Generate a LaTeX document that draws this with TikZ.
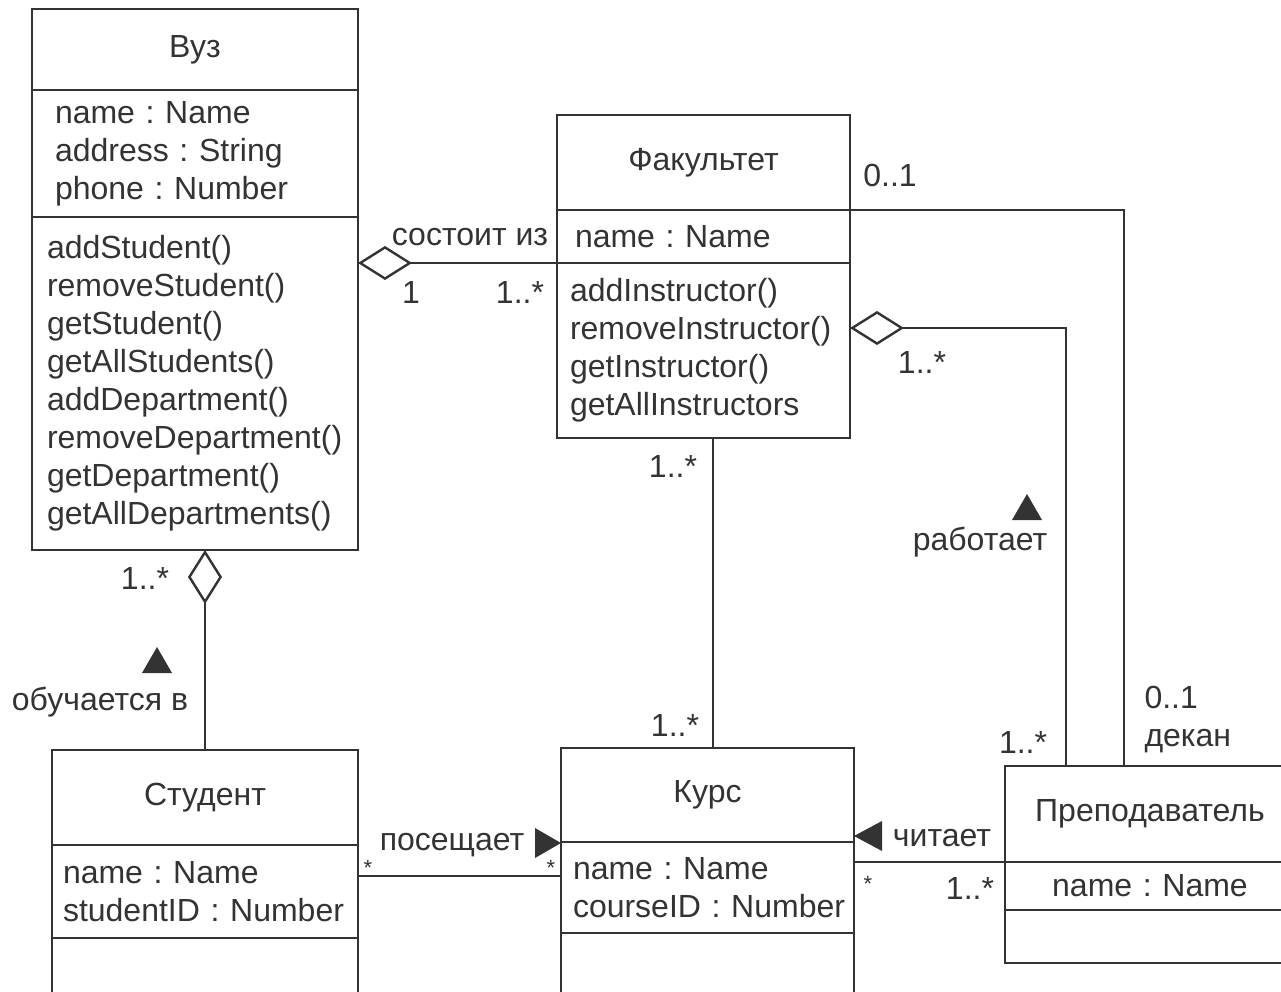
\documentclass[tikz,border=0pt]{standalone}
\usepackage{fontspec}
\setmainfont{Liberation Sans}
\usetikzlibrary{arrows.meta,positioning}
\definecolor{ink}{HTML}{333333}
\newcommand{\umlsize}{\fontsize{32}{38}\selectfont}
\frenchspacing
\hyphenpenalty=10000

\begin{document}
\begin{tikzpicture}[x=1pt, y=-1pt, line width=2.4pt, color=ink,
	every node/.style={font=\umlsize, text=ink},
	classtitle/.style={draw=ink, anchor=north west, outer sep=0pt, inner sep=0pt, align=center},
	compartment/.style={draw=ink, below=0pt of #1, outer sep=0pt, inner ysep=0pt, align=left},
	agg/.style={{Diamond[open, length=54pt, width=34pt]}-},
	star/.style={font=\fontsize{22}{22}\selectfont}]
	\useasboundingbox (0,0) rectangle (1281,992);
	\clip (0,0) rectangle (1281,992);

	% Вуз
	\node[classtitle, minimum width=326, minimum height=81] (vuz) at (32,9) {Вуз};
	\node[compartment=vuz, minimum width=326, minimum height=127, inner xsep=23, text width=280] (vuzattr) {name : Name\\address : String\\phone : Number};
	\node[compartment=vuzattr, minimum width=326, minimum height=333, inner xsep=15, text width=296] (vuzops) {addStudent()\\removeStudent()\\getStudent()\\getAllStudents()\\addDepartment()\\removeDepartment()\\getDepartment()\\getAllDepartments()};

	% Факультет
	\node[classtitle, minimum width=293, minimum height=95] (fak) at (557,115) {Факультет};
	\node[compartment=fak, minimum width=293, minimum height=53, inner xsep=18, text width=257] (fakattr) {name : Name};
	\node[compartment=fakattr, minimum width=293, minimum height=175, inner xsep=13, text width=267] (fakops) {addInstructor()\\removeInstructor()\\getInstructor()\\getAllInstructors};

	% Студент
	\node[classtitle, minimum width=306, minimum height=95] (stud) at (52,750) {Студент};
	\node[compartment=stud, minimum width=306, minimum height=93, inner xsep=11, text width=284] (studattr) {name : Name\\studentID~:~Number};
	\node[compartment=studattr, minimum width=306, minimum height=80, inner xsep=11, text width=284] (studops) {};

	% Курс
	\node[classtitle, minimum width=293, minimum height=94] (kurs) at (561,748) {Курс};
	\node[compartment=kurs, minimum width=293, minimum height=91, inner xsep=12, text width=269] (kursattr) {name : Name\\courseID~:~Number};
	\node[compartment=kursattr, minimum width=293, minimum height=80, inner xsep=12, text width=269] (kursops) {};

	% Преподаватель
	\node[classtitle, minimum width=290, minimum height=96] (prep) at (1005,766) {Преподаватель};
	\node[compartment=prep, minimum width=290, minimum height=48, inner xsep=10, text width=270, align=center] (prepattr) {name : Name};
	\node[compartment=prepattr, minimum width=290, minimum height=53, inner xsep=10, text width=270] (prepops) {};

	% связи
	\coordinate (deanbend) at (1124,210);
	\coordinate (worksbend) at (1066,328);
	\coordinate (kurstop) at (713,748);
	\coordinate (visity) at (0,876);
	\draw[agg] (fakops.north west -| vuzops.east) -- (fakops.north west);
	\draw (fak.south east) -- (deanbend) -- (prep.north -| deanbend);
	\draw[agg] (fakops.east |- worksbend) -- (worksbend) -- (prep.north -| worksbend);
	\draw (fakops.south -| kurstop) -- (kurstop);
	\draw[agg] (vuzops.south -| stud.north) -- (stud.north);
	\draw (studattr.east |- visity) -- (kursattr.west |- visity);
	\draw (prep.south west) -- (prep.south west -| kurs.east);

	% направления
	\fill (142,673) -- (172,673) -- (157,647) -- cycle;
	\fill (1012,520) -- (1042,520) -- (1027,494) -- cycle;
	\fill (535,828) -- (535,858) -- (561,843) -- cycle;
	\fill (882,821) -- (882,851) -- (854,836) -- cycle;

	\node (consist) at (470,237) {состоит из};
	\node (consone) at (411,292) {1};
	\node (consmany) at (520,292) {1..*};
	\node (deanfak) at (890,175) {0..1};
	\node[align=left, anchor=west] (deanrole) at (1140,720) {0..1\\декан};
	\node (worksfak) at (922,362) {1..*};
	\node (worksprep) at (1023,742) {1..*};
	\node (works) at (980,542) {работает};
	\node (coursefak) at (673,466) {1..*};
	\node (coursekurs) at (675,725) {1..*};
	\node (studmult) at (145,578) {1..*};
	\node (studies) at (100,702) {обучается в};
	\node (visits) at (452,845) {посещает};
	\node[star] (visitfrom) at (368,868) {*};
	\node[star] (visitto) at (551,868) {*};
	\node (reads) at (942,838) {читает};
	\node[star] (readfrom) at (868,884) {*};
	\node (readto) at (970,888) {1..*};
\end{tikzpicture}
\end{document}
